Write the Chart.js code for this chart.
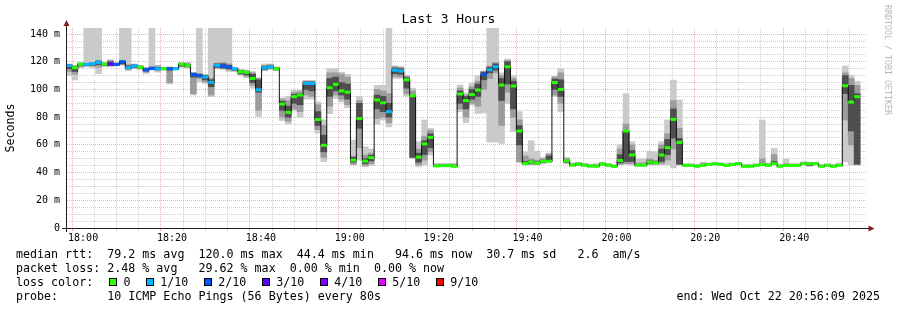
<!DOCTYPE html>
<html>
<head>
<meta charset="utf-8">
<script src="https://cdn.jsdelivr.net/npm/chart.js@4.4.1/dist/chart.umd.min.js"></script>
<style>
  body { margin: 0; background: #fff; }
  #wrap { position: relative; width: 897px; height: 310px; font-family: "DejaVu Sans Mono", monospace; color: #000; overflow: hidden; }
  #wrap canvas { position: absolute; left: 0; top: 0; }
  .title { position: absolute; left: 0; top: 11px; width: 897px; text-align: center; font-size: 13px; line-height: 16px; }
  .line { position: absolute; left: 16px; white-space: pre; font-size: 11.67px; line-height: 14px; }
  .box { position: absolute; width: 6px; height: 6px; border: 1px solid #000; top: 278px; }
  .mark { position: absolute; white-space: pre; font-size: 11.67px; line-height: 14px; top: 275px; }
  .end { position: absolute; right: 17px; top: 289px; white-space: pre; font-size: 11.67px; line-height: 14px; }
  .stamp { position: absolute; left: 883px; top: 5px; writing-mode: vertical-rl; font-size: 8.3px; line-height: 10px; color: #b8b8b8; white-space: pre; }
</style>
</head>
<body>
<div id="wrap">
  <canvas id="chart" width="897" height="310"></canvas>
  <div class="title">Last 3 Hours</div>
  <div class="stamp">RRDTOOL / TOBI OETIKER</div>
  <div class="line" style="top:247px">median rtt:  79.2 ms avg  120.0 ms max  44.4 ms min   94.6 ms now  30.7 ms sd   2.6  am/s</div>
  <div class="line" style="top:261px">packet loss: 2.48 % avg   29.62 % max  0.00 % min  0.00 % now</div>
  <div class="line" style="top:275px">loss color:</div>
  <div class="line" style="top:289px">probe:       10 ICMP Echo Pings (56 Bytes) every 80s</div>
  <div class="end">end: Wed Oct 22 20:56:09 2025</div>
</div>
<script>
// SmokePing "Last 3 Hours" - 80 s steps, minutes relative to 18:00
const START = -3.85;     // 17:56:09
const END = 176.15;      // 20:56:09
const STEP = 80 / 60;

const timeLabels = ["18:00", "18:20", "18:40", "19:00", "19:20", "19:40", "20:00", "20:20", "20:40"];
const yLabels = ["0", "20 m", "40 m", "60 m", "80 m", "100 m", "120 m", "140 m"];

const lossLevels = [0, 1, 2, 3, 4, 5, 9];
const lossLabels = ["0", "1/10", "2/10", "3/10", "4/10", "5/10", "9/10"];
const lossColors = ["#26ff00", "#00b8ff", "#0059ff", "#5e00ff", "#7e00ff", "#dd00ff", "#ff0000"];

// median rtt per step (ms)
const median = [
  117.2, 115.7, 118.3, 118.1, 118.7, 119.6, 118.3, 118.3, 118.1, 120.0,
  115.7, 117.0, 116.0, 114.2, 115.3, 115.0, 115.0, 115.0, 115.0, 118.3,
  117.2, 110.9, 110.0, 109.0, 105.2, 117.4, 117.0, 116.2, 115.0, 112.8,
  112.4, 108.0, 99.8, 115.5, 116.3, 115.0, 89.5, 83.5, 94.8, 96.0,
  104.4, 104.4, 78.3, 59.7, 101.3, 103.7, 99.0, 98.1, 49.0, 79.0,
  48.3, 50.8, 92.4, 90.4, 84.0, 114.0, 113.3, 107.0, 95.5, 51.2,
  60.7, 65.4, 44.8, 45.0, 45.0, 44.5, 96.7, 92.0, 96.4, 99.6,
  110.9, 114.2, 116.4, 103.2, 116.4, 102.5, 70.0, 46.5, 47.6, 46.8,
  48.2, 48.2, 105.0, 100.0, 48.5, 45.4, 46.2, 45.3, 44.6, 44.7,
  46.2, 45.3, 44.5, 48.7, 70.0, 52.7, 45.3, 45.3, 47.6, 47.0,
  52.7, 58.0, 78.4, 61.8, 45.2, 45.2, 44.5, 45.2, 45.9, 46.4,
  45.9, 45.2, 45.9, 46.4, 44.5, 44.5, 45.2, 45.9, 45.2, 46.4,
  44.5, 45.2, 45.2, 45.2, 46.4, 46.4, 46.4, 44.5, 45.2, 44.5,
  45.2, 102.7, 90.9, 94.8
];

// lost pings out of 10 per step
const loss = [
  1, 0, 0, 1, 1, 1, 0, 3, 2, 2,
  1, 1, 0, 2, 2, 1, 0, 2, 1, 0,
  0, 2, 2, 1, 1, 1, 2, 2, 1, 0,
  0, 0, 1, 1, 1, 0, 0, 0, 0, 0,
  1, 1, 0, 0, 0, 0, 0, 0, 0, 0,
  0, 0, 0, 0, 1, 1, 1, 0, 0, 0,
  0, 0, 0, 0, 0, 0, 0, 0, 0, 0,
  2, 1, 1, 0, 0, 0, 0, 0, 0, 0,
  0, 0, 0, 0, 0, 0, 0, 0, 0, 0,
  0, 0, 0, 0, 0, 0, 0, 0, 0, 0,
  0, 0, 0, 0, 0, 0, 0, 0, 0, 0,
  0, 0, 0, 0, 0, 0, 0, 0, 0, 0,
  0, 0, 0, 0, 0, 0, 0, 0, 0, 0,
  0, 0, 0, 0
];

// smoke: fastest / slowest ping
const smokeMin = [
  110, 107, 115.5, 116.5, 115.5, 111.4, 116.5, 116.5, 117, 117.5,
  113.5, 115, 114.5, 111.5, 114, 112.5, 114, 104, 114, 116,
  115.5, 96, 105.6, 104.4, 94.8, 115, 114.5, 113, 113, 110,
  108.5, 101, 80.5, 113.5, 114.5, 113.5, 77.5, 75, 84.5, 80,
  93, 93, 68.5, 48, 82.5, 93.5, 91, 86.8, 45.5, 49,
  44.2, 45, 75, 78, 73, 108, 108, 95, 50, 44.2,
  45.5, 52.7, 44.2, 44.2, 44.2, 44, 84, 76, 88.8, 82.7,
  83, 62, 62, 61, 90, 69.5, 47, 45.5, 45.5, 45.5,
  46.5, 47.5, 95, 84, 46.5, 44.5, 45, 44.5, 44, 44,
  45, 44.5, 44, 45.5, 46, 45.5, 44.5, 44.5, 45.5, 45.5,
  45.5, 45.5, 43.5, 45.5, 44.5, 44.5, 44, 44.5, 45, 45.5,
  45, 44.5, 45, 45.5, 44, 44, 44.5, 45, 44.5, 45.5,
  44, 44.5, 44.5, 44.5, 45.5, 44.5, 45.5, 44, 44.5, 44,
  44.5, 47.8, 45.5, 45.5
];
const smokeMax = [
  118.5, 117.5, 119.5, 144.5, 144.5, 144.5, 119.5, 121.5, 119.5, 144.5,
  144.5, 118.5, 117.5, 116, 144.5, 117.5, 116, 116.5, 116, 119.5,
  119.5, 112.3, 144.5, 111, 144.5, 144.5, 144.5, 144.5, 115.8, 114.5,
  114, 113, 108.5, 118.5, 118.5, 116.5, 94, 95, 99.5, 99.6,
  106.5, 106.5, 91, 78, 115, 115.2, 112.5, 111, 63.5, 95,
  58.7, 57, 103, 103.2, 144.5, 117, 116.5, 110.4, 101, 62.3,
  78, 72, 46.6, 46.6, 46.6, 46.8, 103.2, 97.5, 104.4, 110,
  113.5, 144.5, 144.5, 112, 122, 110, 84, 55, 63, 55.5,
  51, 54, 109.5, 115.2, 51, 47, 47.5, 46.8, 46, 46.5,
  47.5, 46.5, 45.8, 60, 97, 62.3, 50, 50, 55.5, 55,
  62.3, 78, 106.8, 92.4, 46.5, 46.5, 46, 47.5, 47, 47.5,
  47, 46.5, 47, 47.5, 46, 46, 46.5, 78, 47, 57.5,
  46, 49.8, 46.5, 46.5, 48, 47.5, 47.5, 46, 46.5, 46,
  47, 117, 110.4, 106
];

// smoke: 2nd..9th ping band
const smokeLo = [
  113, 111, 116.5, 117, 117, 116, 117, 117, 117.5, 118,
  114.5, 115.5, 115, 112.5, 114.5, 113.5, 114.5, 105, 114.3, 116.5,
  116, 97, 108, 105.5, 96, 115.5, 115, 114, 113.5, 110.8,
  109.5, 103, 85, 114, 115, 114, 80, 77, 86, 84,
  96, 95, 71, 51, 88, 96, 93, 89, 46, 58,
  45, 46.5, 79, 80, 76, 109.5, 109, 97, 51, 45.5,
  49, 55, 44.4, 44.4, 44.4, 44.2, 86, 80, 90, 88,
  100, 108, 112, 74, 98, 80, 48, 46, 46, 46,
  47, 47.7, 96, 90, 47, 44.8, 45.3, 44.7, 44.2, 44.3,
  45.5, 44.8, 44.1, 46, 46.5, 46.5, 44.8, 44.8, 46, 46,
  46.5, 49, 57, 46, 44.8, 44.8, 44.2, 44.8, 45.4, 45.8,
  45.4, 44.8, 45.4, 45.8, 44.2, 44.2, 44.8, 45.4, 44.8, 45.8,
  44.2, 44.8, 44.8, 44.8, 45.8, 45, 45.8, 44.2, 44.8, 44.2,
  44.8, 78, 60, 46
];
const smokeHi = [
  118, 117, 119, 119, 119.5, 121, 119, 121, 119, 121,
  118, 118, 117, 115.5, 116.5, 117, 115.7, 115.5, 115.7, 119,
  119, 112, 111.5, 110.5, 108, 119, 119.5, 118.5, 115.5, 114,
  113.5, 112, 108, 117.5, 118, 116, 93, 92, 98, 98.5,
  106, 106, 89, 74, 112, 112, 111, 109, 52, 92,
  52.7, 54, 100, 99, 97, 116.5, 116, 109.5, 99, 57,
  66, 70.5, 46, 46, 46, 46, 101, 96, 102, 106,
  113, 117, 119.5, 110, 121, 108, 78, 52, 50, 49,
  50, 53.5, 109, 112, 50, 46.5, 47, 46.3, 45.5, 45.8,
  47, 46.2, 45.3, 57, 75, 60, 47, 47, 50, 49,
  60, 68, 92, 72, 46, 46, 45.5, 46.5, 46.6, 47,
  46.6, 46, 46.6, 47, 45.5, 45.5, 46, 50, 46.3, 53,
  45.5, 46.5, 46, 46, 47, 47, 47, 45.5, 46, 45.5,
  46, 112, 108, 103
];

// smoke: pings around the median
const coreLo = [
  115, 113, 117.5, 117.5, 117.5, 118, 117.5, 117.5, 117.5, 118.5,
  115, 116, 115.5, 113.3, 114.8, 114.3, 114.6, 114, 114.6, 117,
  116.5, 109, 109, 107, 102, 116, 115.5, 115, 114, 111.5,
  110.5, 105, 98, 114.5, 115.5, 114.3, 85, 80, 90, 89,
  100, 99, 74, 55, 95, 99, 96, 93, 47.5, 72,
  46.5, 48.5, 86, 84, 80, 111.5, 111, 101, 51, 47.5,
  53, 58, 44.5, 44.5, 44.5, 44.3, 90, 86, 93, 95,
  107, 112, 114, 92, 104, 86, 60, 46.2, 46.5, 46.3,
  47.5, 47.9, 100, 95, 47.5, 45, 45.5, 45, 44.3, 44.5,
  45.8, 45, 44.2, 47, 48, 48, 45, 45, 46.5, 46.5,
  48, 53, 65, 46, 45, 45, 44.3, 45, 45.6, 46,
  45.6, 45, 45.6, 46, 44.3, 44.3, 45, 45.6, 45, 46,
  44.3, 45, 45, 45, 46, 45.2, 46, 44.3, 45, 44.3,
  45, 97, 70, 46
];
const coreHi = [
  118, 116.5, 118.8, 118.5, 119, 120.5, 119, 120, 118.7, 120.5,
  117, 117.8, 116.8, 115, 116, 116, 115.5, 115.7, 115.5, 118.8,
  118, 111.8, 111, 110, 107, 118.5, 118.5, 117.5, 115.3, 113.7,
  113, 111, 107, 116.5, 117, 115.6, 91.5, 88, 96.5, 97,
  105.5, 105.5, 84, 67, 108, 109, 105, 104, 51, 90,
  50, 52.5, 96, 95, 90, 115.5, 115, 108.5, 95.5, 54,
  63, 68, 45.3, 45.4, 45.4, 45.2, 99, 95, 100, 104,
  112.5, 116, 118.5, 108, 120, 106, 74, 48, 48.5, 47.8,
  49, 52, 107.5, 107, 49, 46, 46.7, 45.8, 45, 45.2,
  46.6, 45.8, 45, 53, 70, 56, 46, 46, 48.5, 48,
  57, 64, 86, 64.7, 45.6, 45.6, 45, 45.8, 46.3, 46.8,
  46.3, 45.6, 46.3, 46.8, 45, 45, 45.6, 46.3, 45.6, 48,
  45, 45.6, 45.6, 45.6, 46.8, 47, 46.8, 45, 45.6, 45,
  45.6, 110, 103, 97
];

// step centres on the time axis
const stepTimes = median.map((_, i) => START + (i + 0.5) * STEP);

const MAJOR_GRID = "rgba(222,79,79,0.45)";
const MINOR_GRID = "rgba(143,143,143,0.42)";
const FONT = "DejaVu Sans Mono";

function lossColor(n) {
  let c = lossColors[0];
  lossLevels.forEach((lv, i) => { if (n >= lv) c = lossColors[i]; });
  return c;
}

function range(lo, hi) {
  return stepTimes.map((t, i) => ({ x: t, y: [lo[i], hi[i]] }));
}

function halfStep(chart) {
  const x = chart.scales && chart.scales.x;
  if (!x) return 3;
  return (x.getPixelForValue(STEP) - x.getPixelForValue(0)) / 2;
}

// loss colour legend
(function () {
  const wrap = document.getElementById("wrap");
  let x = 108.7;
  lossLabels.forEach((lab, i) => {
    const b = document.createElement("div");
    b.className = "box";
    b.style.left = x + "px";
    b.style.background = lossColors[i];
    wrap.appendChild(b);
    const t = document.createElement("div");
    t.className = "mark";
    t.style.left = (x + 14.7) + "px";
    t.textContent = lab;
    wrap.appendChild(t);
    x += 14.7 + lab.length * 7.02 + 15.2;
  });
})();

const axisArrows = {
  id: "axisArrows",
  afterDraw(chart) {
    const { ctx, chartArea: a } = chart;
    ctx.save();
    ctx.strokeStyle = "#1f1f1f";
    ctx.lineWidth = 1;
    ctx.beginPath();
    ctx.moveTo(a.left - 4, a.bottom + 0.5);
    ctx.lineTo(a.right + 3, a.bottom + 0.5);
    ctx.moveTo(a.left + 0.5, a.bottom + 4);
    ctx.lineTo(a.left + 0.5, a.top - 3);
    ctx.stroke();
    ctx.fillStyle = "#801f1f";
    ctx.beginPath();
    ctx.moveTo(a.left + 0.5, a.top - 8);
    ctx.lineTo(a.left - 2.5, a.top - 2);
    ctx.lineTo(a.left + 3.5, a.top - 2);
    ctx.closePath();
    ctx.fill();
    ctx.beginPath();
    ctx.moveTo(a.right + 8.5, a.bottom + 0.5);
    ctx.lineTo(a.right + 2.5, a.bottom - 2.5);
    ctx.lineTo(a.right + 2.5, a.bottom + 3.5);
    ctx.closePath();
    ctx.fill();
    ctx.restore();
  }
};

const smokeBar = { grouped: false, barPercentage: 1, categoryPercentage: 1, borderWidth: 0 };

new Chart(document.getElementById("chart"), {
  type: "bar",
  data: {
    datasets: [
      { ...smokeBar, label: "smoke", data: range(smokeMin, smokeMax), backgroundColor: "#cacaca", order: 5 },
      { ...smokeBar, label: "smoke2", data: range(smokeLo, smokeHi), backgroundColor: "#9c9c9c", order: 4 },
      { ...smokeBar, label: "smoke3", data: range(coreLo, coreHi), backgroundColor: "#4e4e4e", order: 3 },
      {
        type: "line", label: "median",
        data: stepTimes.map((t, i) => ({ x: t, y: median[i] })),
        stepped: "middle", borderColor: "#111", borderWidth: 1, pointRadius: 0, order: 2
      },
      {
        type: "line", label: "loss", showLine: false,
        data: stepTimes.map((t, i) => ({ x: t, y: median[i] })),
        pointStyle: "line",
        pointRadius: ctx => halfStep(ctx.chart),
        pointBorderWidth: 3,
        pointBorderColor: ctx => lossColor(loss[ctx.dataIndex]),
        order: 1
      }
    ]
  },
  options: {
    responsive: false,
    animation: false,
    devicePixelRatio: 1,
    layout: { padding: { top: 28, right: 31, left: 0, bottom: 0 } },
    plugins: { legend: { display: false }, tooltip: { enabled: false }, title: { display: false } },
    scales: {
      x: {
        type: "linear", min: START, max: END, offset: false, z: 1,
        afterBuildTicks: s => { s.ticks = []; for (let v = 0; v <= 175; v += 5) s.ticks.push({ value: v }); },
        afterFit: s => { s.height = 82; },
        ticks: {
          autoSkip: false, maxRotation: 0, padding: 1, color: "#000",
          font: { family: FONT, size: 10 },
          callback: v => (v % 20 === 0 ? timeLabels[v / 20] : "")
        },
        grid: {
          color: c => (c.tick && c.tick.value % 20 === 0 ? MAJOR_GRID : MINOR_GRID),
          tickLength: 3, drawTicks: true
        },
        border: { display: true, color: "#1f1f1f", dash: [1, 1] }
      },
      y: {
        min: 0, max: 144.4, z: 1,
        afterBuildTicks: s => { s.ticks = []; for (let v = 0; v <= 140; v += 5) s.ticks.push({ value: v }); },
        afterFit: s => { s.width = 66; },
        ticks: {
          autoSkip: false, padding: 6, color: "#000",
          font: { family: FONT, size: 10 },
          callback: v => (v % 20 === 0 ? yLabels[v / 20] : "")
        },
        grid: {
          color: c => (c.tick && c.tick.value % 20 === 0 ? MAJOR_GRID : MINOR_GRID),
          drawTicks: false
        },
        border: { display: true, color: "#1f1f1f", dash: [1, 1] },
        title: { display: true, text: "Seconds", color: "#000", font: { family: FONT, size: 11.6 }, padding: { top: 4, bottom: 4 } }
      }
    }
  },
  plugins: [axisArrows]
});
</script>
</body>
</html>
